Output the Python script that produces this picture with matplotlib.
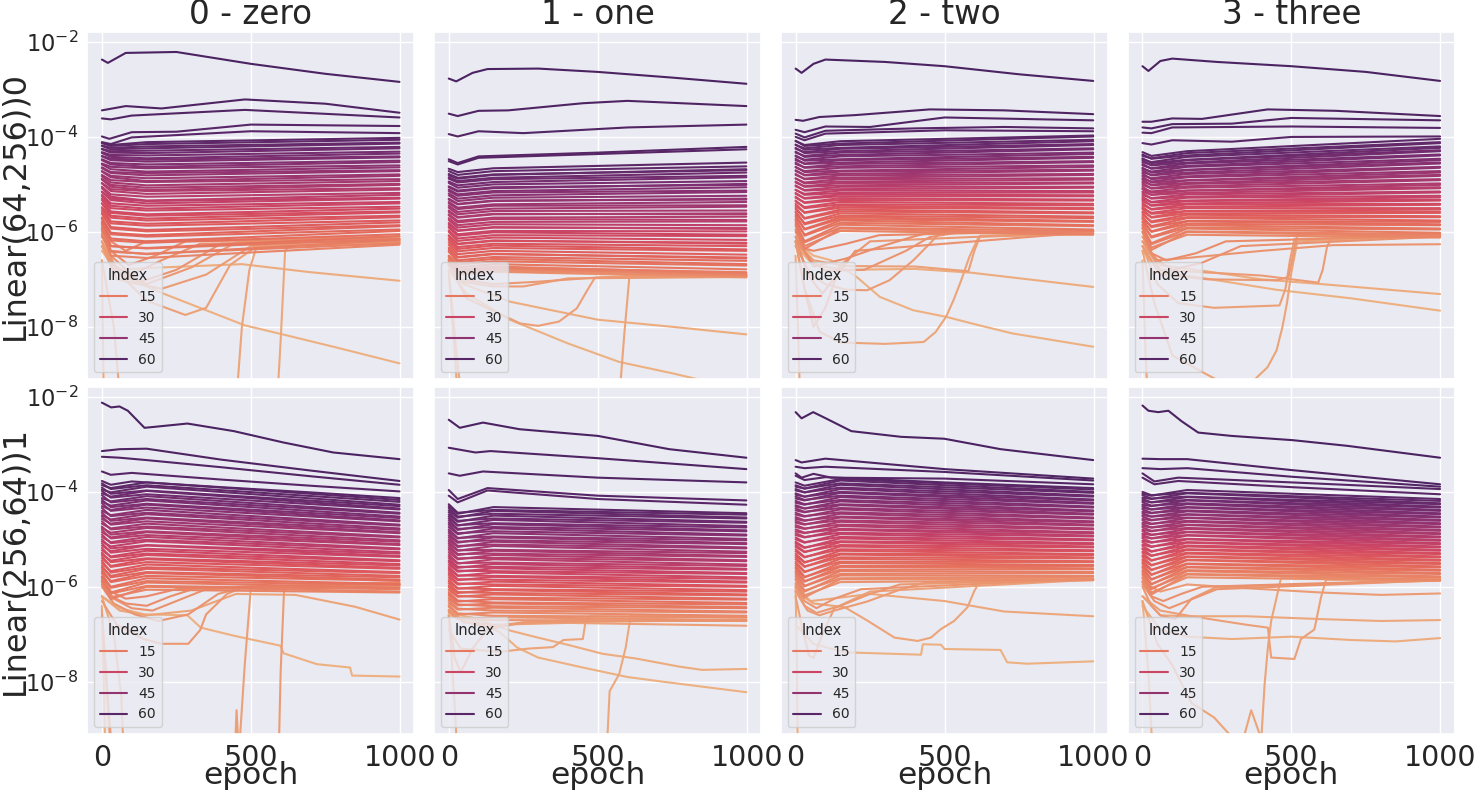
import numpy as np
import pandas as pd
import matplotlib
matplotlib.use("Agg")
import matplotlib.pyplot as plt
from matplotlib.ticker import NullLocator
import seaborn as sns

# all values are log10 of the plotted quantity
knots = [0, 30, 150, 999]

tasks = ["0 - zero", "1 - one", "2 - two", "3 - three"]
layers = ["Linear(64,256))0", "Linear(256,64))1"]

# ---------------- Linear(64,256))0 , 0 - zero ----------------
l0_zero_low = [
    ([0, 60, 190, 480, 600, 777, 999], [-6.4, -6.9, -7.26, -7.97, -8.15, -8.42, -8.77]),
    ([0, 50, 200, 470, 700, 999], [-6.3, -6.8, -6.75, -6.68, -6.85, -7.03]),
    ([0, 8, 580, 600, 615, 650, 999], [-6.6, -10.5, -10.5, -8.3, -6.4, -6.15, -6.2]),
    ([0, 40, 75, 440, 470, 495, 520, 999], [-6.6, -8.0, -10.5, -10.5, -8.0, -6.8, -6.3, -6.24]),
    ([0, 60, 150, 280, 350, 430, 520, 999], [-6.2, -6.9, -7.45, -7.75, -7.6, -6.7, -6.3, -6.22]),
    ([0, 50, 200, 350, 500, 999], [-6.3, -7.0, -7.2, -6.9, -6.3, -6.24]),
    ([0, 40, 150, 300, 450, 999], [-6.2, -6.8, -7.1, -6.75, -6.22, -6.16]),
    ([0, 40, 130, 250, 400, 999], [-6.0, -6.7, -7.05, -6.8, -6.25, -6.18]),
    ([0, 30, 100, 200, 330, 999], [-5.9, -6.5, -6.9, -6.6, -6.25, -6.2]),
    ([0, 30, 90, 180, 280, 999], [-5.8, -6.4, -6.7, -6.5, -6.2, -6.14]),
    ([0, 30, 80, 150, 999], [-5.7, -6.2, -6.4, -6.2, -6.1]),
]
l0_zero_mid = [
    [-6.05, -6.50, -6.55, -6.27], [-5.95, -6.42, -6.46, -6.24], [-6.10, -6.40, -6.47, -6.17],
    [-5.85, -6.30, -6.35, -6.15], [-5.92, -6.30, -6.34, -6.09], [-5.78, -6.18, -6.23, -6.05],
    [-5.82, -6.14, -6.20, -5.98], [-5.70, -6.05, -6.10, -5.95], [-5.72, -6.02, -6.07, -5.88],
    [-5.62, -5.93, -5.99, -5.86], [-5.60, -5.90, -5.96, -5.80], [-5.55, -5.82, -5.87, -5.76],
    [-5.50, -5.78, -5.83, -5.69], [-5.48, -5.70, -5.76, -5.66], [-5.40, -5.66, -5.72, -5.59],
    [-5.40, -5.60, -5.66, -5.57], [-5.33, -5.57, -5.63, -5.51], [-5.30, -5.50, -5.55, -5.47],
    [-5.25, -5.45, -5.51, -5.40], [-5.22, -5.40, -5.45, -5.37], [-5.16, -5.33, -5.40, -5.30],
    [-5.15, -5.30, -5.35, -5.28], [-5.08, -5.26, -5.34, -5.22], [-5.05, -5.21, -5.26, -5.18],
    [-4.98, -5.14, -5.20, -5.11], [-4.97, -5.10, -5.14, -5.08], [-4.90, -5.05, -5.12, -5.01],
    [-4.88, -5.01, -5.07, -4.99], [-4.83, -4.96, -5.02, -4.93], [-4.80, -4.91, -4.95, -4.89],
    [-4.73, -4.85, -4.93, -4.82], [-4.72, -4.82, -4.87, -4.79], [-4.66, -4.76, -4.81, -4.72],
    [-4.64, -4.74, -4.76, -4.70], [-4.58, -4.68, -4.73, -4.64], [-4.56, -4.63, -4.66, -4.60],
    [-4.49, -4.58, -4.63, -4.53], [-4.47, -4.55, -4.58, -4.50], [-4.41, -4.49, -4.52, -4.43],
    [-4.40, -4.46, -4.48, -4.41], [-4.34, -4.42, -4.45, -4.35], [-4.32, -4.38, -4.39, -4.31],
    [-4.26, -4.33, -4.34, -4.24], [-4.25, -4.30, -4.29, -4.21], [-4.19, -4.26, -4.24, -4.14],
    [-4.18, -4.23, -4.20, -4.12], [-4.13, -4.19, -4.15, -4.06], [-4.12, -4.17, -4.11, -4.02],
]
l0_zero_high = [
    ([0, 30, 100, 500, 999], [-4.11, -4.15, -4.01, -3.88, -3.92]),
    ([0, 25, 100, 250, 500, 999], [-3.99, -4.04, -3.90, -3.89, -3.74, -3.77]),
    ([0, 30, 100, 480, 999], [-3.61, -3.63, -3.55, -3.43, -3.59]),
    ([0, 80, 200, 480, 750, 999], [-3.44, -3.35, -3.40, -3.21, -3.30, -3.49]),
    ([0, 20, 80, 250, 500, 750, 999], [-2.37, -2.44, -2.23, -2.21, -2.46, -2.67, -2.84]),
]

# ---------------- Linear(64,256))0 , 1 - one ----------------
l0_one_low = [
    ([0, 60, 205, 400, 572, 751, 900, 999], [-6.8, -7.3, -7.85, -8.35, -8.74, -8.98, -9.2, -9.3]),
    ([0, 50, 205, 500, 750, 999], [-6.7, -7.1, -7.47, -7.85, -8.0, -8.16]),
    ([0, 25, 60, 999], [-6.8, -8.5, -10.5, -10.5]),
    ([0, 20, 40, 560, 590, 607, 650, 999], [-6.9, -8.5, -10.5, -10.5, -8.1, -6.9, -6.88, -6.9]),
    ([0, 60, 240, 300, 370, 430, 465, 490, 600, 999],
     [-6.7, -7.4, -7.93, -7.98, -7.89, -7.61, -7.23, -6.97, -6.93, -6.92]),
    ([0, 40, 150, 250, 400, 999], [-6.7, -7.05, -7.15, -7.15, -6.98, -6.95]),
    ([0, 40, 150, 300, 500, 999], [-6.6, -7.0, -7.1, -7.05, -6.96, -6.94]),
]
l0_one_mid = [
    [-6.68, -6.91, -6.84, -6.96], [-6.62, -6.86, -6.80, -6.945], [-6.70, -6.88, -6.83, -6.93],
    [-6.58, -6.84, -6.76, -6.91], [-6.66, -6.85, -6.78, -6.89], [-6.55, -6.80, -6.73, -6.87],
    [-6.60, -6.82, -6.75, -6.85], [-6.52, -6.75, -6.68, -6.79], [-6.50, -6.69, -6.62, -6.71],
    [-6.42, -6.64, -6.57, -6.68], [-6.40, -6.60, -6.53, -6.61], [-6.33, -6.53, -6.46, -6.56],
    [-6.36, -6.54, -6.47, -6.54], [-6.27, -6.47, -6.40, -6.48], [-6.22, -6.41, -6.34, -6.40],
    [-6.17, -6.36, -6.29, -6.37], [-6.14, -6.32, -6.25, -6.30], [-6.07, -6.25, -6.18, -6.25],
    [-6.09, -6.26, -6.19, -6.23], [-6.00, -6.19, -6.12, -6.17], [-5.97, -6.14, -6.07, -6.09],
    [-5.91, -6.08, -6.01, -6.06], [-5.88, -6.05, -5.98, -5.99], [-5.81, -5.97, -5.90, -5.94],
    [-5.84, -5.98, -5.91, -5.92], [-5.75, -5.91, -5.84, -5.86], [-5.71, -5.86, -5.79, -5.78],
    [-5.65, -5.80, -5.73, -5.75], [-5.63, -5.77, -5.70, -5.68], [-5.55, -5.69, -5.62, -5.63],
    [-5.58, -5.70, -5.63, -5.61], [-5.49, -5.63, -5.56, -5.55], [-5.45, -5.58, -5.51, -5.47],
    [-5.40, -5.52, -5.45, -5.44], [-5.37, -5.49, -5.42, -5.37], [-5.30, -5.41, -5.34, -5.32],
    [-5.32, -5.42, -5.35, -5.30], [-5.23, -5.35, -5.28, -5.24], [-5.19, -5.30, -5.23, -5.16],
    [-5.14, -5.24, -5.17, -5.13], [-5.11, -5.21, -5.14, -5.06], [-5.04, -5.13, -5.06, -5.01],
    [-5.06, -5.15, -5.08, -4.99], [-4.97, -5.07, -5.00, -4.93], [-4.94, -5.02, -4.95, -4.85],
    [-4.88, -4.96, -4.89, -4.82], [-4.85, -4.93, -4.86, -4.75], [-4.78, -4.86, -4.79, -4.70],
    [-4.81, -4.88, -4.80, -4.68], [-4.72, -4.80, -4.72, -4.62], [-4.67, -4.74, -4.66, -4.54],
]
l0_one_high = [
    ([0, 30, 100, 500, 999], [-4.51, -4.58, -4.44, -4.36, -4.26]),
    ([0, 30, 100, 500, 999], [-4.47, -4.55, -4.41, -4.33, -4.21]),
    ([0, 30, 100, 250, 600, 999], [-3.94, -3.99, -3.88, -3.92, -3.80, -3.74]),
    ([0, 30, 100, 200, 450, 600, 999], [-3.51, -3.56, -3.45, -3.44, -3.29, -3.24, -3.35]),
    ([0, 25, 80, 130, 300, 500, 750, 999], [-2.77, -2.83, -2.65, -2.57, -2.56, -2.63, -2.75, -2.88]),
]

# ---------------- Linear(64,256))0 , 2 - two ----------------
l0_two_low = [
    ([0, 60, 120, 205, 283, 394, 505, 617, 728, 999],
     [-6.2, -6.5, -6.6, -6.95, -7.37, -7.65, -7.79, -7.97, -8.14, -8.42]),
    ([0, 60, 170, 400, 590, 999], [-6.3, -6.7, -6.80, -6.78, -6.86, -7.16]),
    ([0, 10, 20, 999], [-6.5, -8.5, -10.5, -10.5]),
    ([0, 30, 80, 150, 300, 430, 470, 505, 530, 556, 583, 615, 999],
     [-6.2, -7.2, -8.1, -8.33, -8.36, -8.32, -8.11, -7.79, -7.44, -7.02, -6.53, -6.1, -6.05]),
    ([0, 60, 170, 400, 580, 600, 620, 999], [-6.2, -6.6, -6.72, -6.73, -6.83, -6.4, -6.08, -6.04]),
    ([0, 50, 100, 170, 240, 315, 395, 450, 485, 999],
     [-6.3, -6.9, -7.1, -7.22, -7.23, -7.02, -6.6, -6.25, -6.02, -6.0]),
    ([0, 30, 60, 100, 150, 250, 999], [-6.2, -7.2, -8.0, -7.6, -6.7, -6.2, -6.0]),
    ([0, 50, 100, 230, 370, 450, 560, 999], [-6.2, -6.6, -6.82, -6.8, -6.4, -6.11, -6.0, -5.99]),
    ([0, 40, 90, 140, 200, 999], [-6.1, -6.9, -7.3, -6.9, -6.4, -6.0]),
    ([0, 40, 60, 170, 280, 395, 460, 999], [-6.1, -6.5, -6.73, -6.56, -6.32, -6.1, -6.0, -5.98]),
    ([0, 30, 60, 170, 280, 999], [-6.0, -6.35, -6.4, -6.25, -6.07, -5.97]),
]
l0_two_mid = [
    [-5.88, -6.30, -5.98, -6.06], [-5.95, -6.36, -5.93, -6.04], [-5.80, -6.22, -5.91, -5.98],
    [-5.84, -6.20, -5.85, -5.95], [-5.73, -6.08, -5.81, -5.88], [-5.76, -6.06, -5.76, -5.86],
    [-5.64, -5.95, -5.73, -5.79], [-5.68, -5.94, -5.69, -5.77], [-5.57, -5.84, -5.66, -5.71],
    [-5.59, -5.82, -5.61, -5.68], [-5.49, -5.72, -5.57, -5.61], [-5.52, -5.71, -5.53, -5.59],
    [-5.41, -5.60, -5.49, -5.52], [-5.45, -5.59, -5.45, -5.50], [-5.34, -5.50, -5.42, -5.44],
    [-5.36, -5.48, -5.37, -5.41], [-5.26, -5.39, -5.33, -5.34], [-5.28, -5.38, -5.29, -5.32],
    [-5.18, -5.30, -5.25, -5.25], [-5.20, -5.29, -5.21, -5.23], [-5.11, -5.22, -5.18, -5.17],
    [-5.12, -5.20, -5.13, -5.14], [-5.02, -5.13, -5.10, -5.07], [-5.04, -5.12, -5.05, -5.05],
    [-4.94, -5.05, -5.02, -4.98], [-4.96, -5.04, -4.97, -4.96], [-4.87, -4.98, -4.94, -4.90],
    [-4.88, -4.96, -4.89, -4.87], [-4.78, -4.89, -4.86, -4.80], [-4.80, -4.88, -4.81, -4.78],
    [-4.70, -4.81, -4.78, -4.71], [-4.72, -4.80, -4.73, -4.69], [-4.63, -4.74, -4.71, -4.63],
    [-4.64, -4.72, -4.65, -4.60], [-4.54, -4.65, -4.62, -4.53], [-4.57, -4.64, -4.57, -4.51],
    [-4.46, -4.57, -4.54, -4.44], [-4.49, -4.56, -4.49, -4.42], [-4.39, -4.50, -4.47, -4.36],
    [-4.41, -4.48, -4.41, -4.33], [-4.31, -4.42, -4.38, -4.26], [-4.33, -4.40, -4.33, -4.24],
    [-4.23, -4.34, -4.30, -4.17], [-4.25, -4.32, -4.25, -4.15], [-4.16, -4.27, -4.23, -4.09],
    [-4.17, -4.24, -4.17, -4.06], [-4.08, -4.19, -4.14, -3.99], [-4.09, -4.17, -4.09, -3.97],
]
l0_two_high = [
    ([0, 30, 100, 500, 999], [-4.00, -4.07, -3.93, -3.86, -3.88]),
    ([0, 30, 100, 400, 700, 999], [-3.93, -4.01, -3.87, -3.82, -3.79, -3.82]),
    ([0, 30, 100, 250, 500, 999], [-3.85, -3.90, -3.78, -3.79, -3.59, -3.65]),
    ([0, 25, 80, 200, 450, 700, 999], [-3.64, -3.66, -3.58, -3.54, -3.42, -3.44, -3.52]),
    ([0, 20, 60, 100, 300, 500, 750, 999], [-2.56, -2.65, -2.46, -2.37, -2.42, -2.51, -2.68, -2.82]),
]

# ---------------- Linear(64,256))0 , 3 - three ----------------
l0_three_low = [
    ([0, 60, 180, 450, 700, 999], [-6.4, -6.85, -6.95, -7.22, -7.4, -7.66]),
    ([0, 60, 180, 400, 600, 999], [-6.3, -6.7, -6.8, -7.0, -7.1, -7.31]),
    ([0, 10, 25, 999], [-6.6, -8.5, -10.5, -10.5]),
    ([0, 40, 100, 200, 260, 370, 420, 450, 470, 485, 500, 520, 999],
     [-6.4, -7.5, -8.6, -8.95, -9.15, -9.15, -8.85, -8.5, -8.0, -7.5, -6.85, -6.2, -6.1]),
    ([0, 50, 120, 240, 460, 480, 495, 510, 999], [-6.3, -7.1, -7.5, -7.6, -7.55, -7.2, -6.6, -6.15, -6.08]),
    ([0, 60, 200, 400, 590, 605, 620, 640, 999], [-6.2, -6.8, -6.85, -6.92, -7.07, -6.8, -6.3, -6.1, -6.05]),
    ([0, 60, 220, 450, 490, 505, 520, 999], [-6.3, -6.9, -7.0, -7.02, -6.95, -6.5, -6.05, -6.05]),
    ([0, 50, 150, 400, 640, 999], [-6.2, -6.6, -6.55, -6.40, -6.28, -6.26]),
    ([0, 40, 100, 200, 330, 999], [-6.1, -6.55, -6.8, -6.65, -6.3, -6.1]),
    ([0, 30, 80, 180, 280, 999], [-6.0, -6.45, -6.6, -6.45, -6.2, -6.08]),
]
l0_three_mid = [
    [-5.93, -6.33, -6.06, -6.12], [-6.00, -6.38, -6.00, -6.10], [-5.88, -6.26, -5.99, -6.05],
    [-5.92, -6.24, -5.93, -6.02], [-5.80, -6.12, -5.91, -5.95], [-5.85, -6.10, -5.86, -5.93],
    [-5.73, -6.00, -5.83, -5.86], [-5.78, -5.99, -5.78, -5.84], [-5.68, -5.90, -5.77, -5.79],
    [-5.71, -5.88, -5.71, -5.76], [-5.60, -5.80, -5.69, -5.69], [-5.64, -5.78, -5.64, -5.67],
    [-5.52, -5.70, -5.61, -5.60], [-5.57, -5.69, -5.56, -5.58], [-5.47, -5.62, -5.56, -5.53],
    [-5.50, -5.60, -5.50, -5.50], [-5.39, -5.53, -5.47, -5.43], [-5.43, -5.52, -5.42, -5.41],
    [-5.32, -5.45, -5.40, -5.34], [-5.35, -5.44, -5.35, -5.32], [-5.26, -5.38, -5.34, -5.27],
    [-5.29, -5.37, -5.28, -5.24], [-5.18, -5.30, -5.26, -5.17], [-5.22, -5.29, -5.21, -5.15],
    [-5.10, -5.22, -5.18, -5.08], [-5.15, -5.22, -5.13, -5.06], [-5.05, -5.17, -5.13, -5.01],
    [-5.09, -5.15, -5.07, -4.98], [-4.97, -5.09, -5.04, -4.91], [-5.01, -5.08, -4.99, -4.89],
    [-4.90, -5.02, -4.97, -4.82], [-4.94, -5.01, -4.92, -4.80], [-4.84, -4.96, -4.91, -4.75],
    [-4.88, -4.94, -4.85, -4.72], [-4.77, -4.89, -4.83, -4.65], [-4.81, -4.87, -4.78, -4.63],
    [-4.70, -4.81, -4.75, -4.56], [-4.74, -4.80, -4.70, -4.54], [-4.65, -4.75, -4.69, -4.49],
    [-4.67, -4.73, -4.63, -4.46], [-4.57, -4.67, -4.61, -4.39], [-4.60, -4.66, -4.56, -4.37],
    [-4.50, -4.60, -4.54, -4.30], [-4.53, -4.59, -4.49, -4.28], [-4.45, -4.55, -4.48, -4.23],
    [-4.47, -4.53, -4.42, -4.20], [-4.37, -4.46, -4.39, -4.13], [-4.40, -4.45, -4.34, -4.11],
    [-4.32, -4.40, -4.30, -4.04],
]
l0_three_high = [
    ([0, 30, 100, 300, 500, 999], [-4.13, -4.16, -4.07, -4.10, -4.00, -3.99]),
    ([0, 30, 100, 500, 999], [-3.91, -3.92, -3.80, -3.78, -3.81]),
    ([0, 30, 100, 300, 500, 999], [-3.80, -3.82, -3.73, -3.72, -3.60, -3.65]),
    ([0, 30, 100, 200, 420, 650, 999], [-3.68, -3.68, -3.61, -3.62, -3.42, -3.45, -3.56]),
    ([0, 20, 60, 100, 250, 500, 750, 999], [-2.51, -2.61, -2.40, -2.35, -2.42, -2.51, -2.63, -2.82]),
]

# ---------------- Linear(256,64))1 , 0 - zero ----------------
l1_zero_low = [
    ([0, 60, 143, 287, 332, 443, 599, 610, 722, 833, 840, 999],
     [-6.2, -6.45, -6.58, -6.60, -6.86, -7.03, -7.24, -7.40, -7.63, -7.70, -7.87, -7.89]),
    ([0, 8, 15, 999], [-6.4, -8.5, -10.5, -10.5]),
    ([0, 40, 65, 80, 999], [-6.2, -7.0, -8.3, -10.5, -10.5]),
    ([0, 60, 150, 300, 450, 650, 850, 999], [-6.2, -6.5, -6.6, -6.5, -6.15, -6.17, -6.42, -6.69]),
    ([0, 20, 40, 440, 452, 460, 480, 500, 999], [-6.5, -8.5, -10.5, -10.5, -8.6, -9.5, -7.6, -6.02, -5.98]),
    ([0, 25, 50, 590, 600, 612, 999], [-6.6, -8.8, -10.5, -10.5, -7.8, -6.0, -5.95]),
    ([0, 50, 140, 200, 290, 330, 350, 420, 470, 999],
     [-6.3, -6.8, -7.1, -7.2, -7.2, -6.91, -6.58, -6.15, -6.02, -5.98]),
    ([0, 40, 110, 190, 290, 390, 470, 999], [-6.0, -6.35, -6.58, -6.72, -6.58, -6.15, -6.02, -5.96]),
    ([0, 40, 100, 170, 250, 350, 999], [-5.9, -6.25, -6.45, -6.5, -6.3, -6.05, -5.94]),
    ([0, 30, 80, 150, 230, 320, 999], [-5.9, -6.2, -6.35, -6.4, -6.2, -6.02, -5.92]),
    ([0, 30, 80, 150, 250, 999], [-5.8, -6.1, -6.25, -6.2, -6.05, -5.9]),
]
l1_zero_mid = [
    [-5.88, -6.22, -6.06, -6.12], [-5.95, -6.26, -6.00, -6.10], [-5.82, -6.14, -5.98, -6.05],
    [-5.86, -6.12, -5.91, -6.02], [-5.72, -6.02, -5.88, -5.96], [-5.78, -6.00, -5.82, -5.94],
    [-5.63, -5.90, -5.77, -5.87], [-5.68, -5.88, -5.71, -5.85], [-5.55, -5.80, -5.69, -5.80],
    [-5.59, -5.77, -5.62, -5.77], [-5.45, -5.70, -5.59, -5.71], [-5.50, -5.67, -5.53, -5.69],
    [-5.35, -5.58, -5.48, -5.62], [-5.40, -5.56, -5.42, -5.60], [-5.28, -5.48, -5.40, -5.55],
    [-5.31, -5.45, -5.33, -5.52], [-5.18, -5.38, -5.30, -5.46], [-5.23, -5.36, -5.24, -5.44],
    [-5.08, -5.28, -5.20, -5.37], [-5.13, -5.25, -5.13, -5.35], [-5.00, -5.19, -5.12, -5.30],
    [-5.04, -5.15, -5.04, -5.27], [-4.90, -5.08, -5.01, -5.21], [-4.95, -5.06, -4.95, -5.19],
    [-4.80, -4.98, -4.91, -5.12], [-4.85, -4.96, -4.85, -5.10], [-4.73, -4.90, -4.83, -5.05],
    [-4.76, -4.86, -4.76, -5.02], [-4.62, -4.79, -4.73, -4.96], [-4.67, -4.77, -4.67, -4.94],
    [-4.52, -4.69, -4.62, -4.87], [-4.57, -4.67, -4.56, -4.85], [-4.44, -4.61, -4.54, -4.80],
    [-4.49, -4.58, -4.47, -4.77], [-4.34, -4.51, -4.44, -4.71], [-4.40, -4.49, -4.38, -4.69],
    [-4.24, -4.40, -4.33, -4.62], [-4.30, -4.38, -4.27, -4.60], [-4.17, -4.32, -4.25, -4.55],
    [-4.21, -4.29, -4.18, -4.52], [-4.07, -4.22, -4.15, -4.46], [-4.13, -4.20, -4.09, -4.44],
    [-3.98, -4.12, -4.05, -4.37], [-4.03, -4.10, -3.98, -4.35], [-3.91, -4.04, -3.97, -4.30],
    [-3.95, -4.01, -3.89, -4.27], [-3.82, -3.94, -3.86, -4.21], [-3.86, -3.92, -3.80, -4.17],
]
l1_zero_high = [
    ([0, 30, 100, 400, 700, 999], [-3.77, -3.85, -3.78, -3.90, -4.01, -4.13]),
    ([0, 30, 100, 400, 700, 999], [-3.57, -3.64, -3.60, -3.74, -3.87, -3.99]),
    ([0, 60, 150, 400, 700, 999], [-3.26, -3.28, -3.33, -3.48, -3.67, -3.85]),
    ([0, 60, 150, 400, 700, 999], [-3.14, -3.10, -3.09, -3.32, -3.55, -3.77]),
    ([0, 31, 59, 87, 115, 143, 176, 287, 443, 610, 777, 999],
     [-2.12, -2.22, -2.20, -2.29, -2.47, -2.65, -2.63, -2.56, -2.72, -2.96, -3.17, -3.31]),
]

# ---------------- Linear(256,64))1 , 1 - one ----------------
l1_one_low = [
    ([0, 80, 170, 230, 300, 450, 600, 720, 999], [-6.6, -6.7, -6.95, -7.28, -7.49, -7.7, -7.9, -8.0, -8.22]),
    ([0, 80, 205, 293, 405, 516, 628, 773, 851, 999],
     [-6.55, -6.65, -6.92, -7.06, -7.23, -7.41, -7.51, -7.68, -7.75, -7.73]),
    ([0, 20, 37, 520, 530, 540, 572, 594, 611, 999],
     [-6.6, -8.5, -10.5, -10.5, -9.5, -8.2, -7.84, -7.28, -6.6, -6.65]),
    ([0, 40, 170, 270, 350, 385, 450, 460, 475, 999],
     [-6.9, -7.3, -7.37, -7.30, -7.27, -7.12, -7.10, -6.7, -6.62, -6.65]),
    ([0, 50, 150, 400, 999], [-6.5, -6.75, -6.8, -6.76, -6.82]),
    ([0, 40, 120, 250, 400, 999], [-6.4, -6.7, -6.85, -6.75, -6.7, -6.72]),
    ([0, 20, 40, 80, 130, 250, 999], [-6.6, -7.5, -7.8, -7.3, -6.9, -6.75, -6.7]),
]
l1_one_mid = [
    [-6.48, -6.66, -6.70, -6.72], [-6.52, -6.68, -6.64, -6.70], [-6.38, -6.56, -6.61, -6.64],
    [-6.42, -6.58, -6.54, -6.61], [-6.28, -6.46, -6.50, -6.54], [-6.33, -6.48, -6.44, -6.52],
    [-6.19, -6.37, -6.41, -6.45], [-6.24, -6.39, -6.35, -6.43], [-6.11, -6.29, -6.33, -6.37],
    [-6.15, -6.31, -6.26, -6.34], [-6.01, -6.19, -6.23, -6.27], [-6.06, -6.21, -6.16, -6.25],
    [-5.93, -6.11, -6.13, -6.18], [-5.98, -6.13, -6.07, -6.16], [-5.85, -6.03, -6.05, -6.10],
    [-5.89, -6.04, -5.98, -6.07], [-5.75, -5.93, -5.95, -6.00], [-5.80, -5.95, -5.89, -5.98],
    [-5.66, -5.84, -5.85, -5.91], [-5.71, -5.86, -5.79, -5.89], [-5.58, -5.76, -5.77, -5.83],
    [-5.62, -5.77, -5.70, -5.80], [-5.48, -5.66, -5.67, -5.73], [-5.53, -5.68, -5.61, -5.71],
    [-5.40, -5.58, -5.58, -5.64], [-5.45, -5.60, -5.52, -5.62], [-5.32, -5.50, -5.49, -5.56],
    [-5.36, -5.51, -5.42, -5.53], [-5.22, -5.40, -5.39, -5.46], [-5.27, -5.42, -5.33, -5.44],
    [-5.13, -5.31, -5.30, -5.37], [-5.18, -5.33, -5.24, -5.35], [-5.05, -5.23, -5.22, -5.29],
    [-5.09, -5.24, -5.14, -5.26], [-4.96, -5.14, -5.11, -5.19], [-5.01, -5.16, -5.05, -5.17],
    [-4.87, -5.05, -5.02, -5.10], [-4.92, -5.07, -4.96, -5.08], [-4.79, -4.97, -4.94, -5.02],
    [-4.83, -4.98, -4.87, -4.99], [-4.69, -4.87, -4.83, -4.92], [-4.74, -4.89, -4.77, -4.90],
    [-4.60, -4.78, -4.74, -4.83], [-4.65, -4.80, -4.68, -4.81], [-4.52, -4.70, -4.66, -4.75],
    [-4.56, -4.71, -4.59, -4.72], [-4.43, -4.61, -4.56, -4.65], [-4.48, -4.63, -4.50, -4.63],
    [-4.34, -4.52, -4.46, -4.56], [-4.39, -4.54, -4.40, -4.54], [-4.26, -4.44, -4.38, -4.48],
    [-4.30, -4.46, -4.32, -4.45],
]
l1_one_high = [
    ([0, 30, 130, 500, 999], [-4.08, -4.22, -3.97, -4.15, -4.27]),
    ([0, 30, 130, 500, 999], [-3.96, -4.15, -3.92, -4.08, -4.18]),
    ([0, 37, 115, 500, 999], [-3.61, -3.66, -3.57, -3.70, -3.80]),
    ([0, 90, 140, 500, 999], [-3.07, -3.17, -3.14, -3.29, -3.52]),
    ([0, 37, 115, 238, 500, 740, 999], [-2.48, -2.65, -2.54, -2.68, -2.82, -3.10, -3.28]),
]

# ---------------- Linear(256,64))1 , 2 - two ----------------
l1_two_low = [
    ([0, 60, 165, 421, 427, 488, 500, 688, 710, 777, 999],
     [-6.8, -7.2, -7.38, -7.43, -7.21, -7.22, -7.31, -7.33, -7.59, -7.62, -7.57]),
    ([0, 4, 8, 999], [-6.0, -7.5, -10.5, -10.5]),
    ([0, 50, 120, 250, 500, 700, 999], [-6.0, -6.3, -6.25, -6.15, -6.30, -6.52, -6.62]),
    ([0, 60, 165, 243, 332, 410, 454, 488, 532, 577, 599, 621, 999],
     [-6.1, -6.35, -6.43, -6.72, -7.07, -7.14, -7.07, -6.89, -6.72, -6.43, -6.1, -5.85, -5.84]),
    ([0, 20, 45, 60, 90, 130, 250, 999], [-6.2, -6.8, -7.45, -7.5, -7.0, -6.45, -6.1, -5.85]),
    ([0, 40, 80, 130, 240, 350, 440, 999], [-6.1, -6.5, -6.6, -6.5, -6.31, -6.06, -5.9, -5.86]),
    ([0, 30, 70, 150, 250, 350, 999], [-6.0, -6.4, -6.55, -6.4, -6.15, -5.95, -5.84]),
    ([0, 30, 70, 130, 220, 999], [-5.95, -6.3, -6.45, -6.25, -6.05, -5.83]),
]
l1_two_mid = [
    [-5.85, -6.18, -5.90, -5.86], [-5.92, -6.22, -5.84, -5.84], [-5.78, -6.08, -5.82, -5.79],
    [-5.83, -6.10, -5.76, -5.77], [-5.70, -5.98, -5.73, -5.71], [-5.74, -5.99, -5.67, -5.69],
    [-5.62, -5.88, -5.64, -5.63], [-5.67, -5.89, -5.58, -5.61], [-5.55, -5.79, -5.56, -5.56],
    [-5.59, -5.80, -5.50, -5.54], [-5.47, -5.68, -5.47, -5.48], [-5.51, -5.69, -5.41, -5.46],
    [-5.38, -5.57, -5.38, -5.40], [-5.42, -5.58, -5.32, -5.38], [-5.30, -5.48, -5.30, -5.33],
    [-5.34, -5.49, -5.24, -5.31], [-5.21, -5.37, -5.21, -5.25], [-5.25, -5.38, -5.15, -5.23],
    [-5.12, -5.26, -5.12, -5.17], [-5.16, -5.27, -5.06, -5.15], [-5.05, -5.17, -5.04, -5.10],
    [-5.08, -5.18, -4.98, -5.08], [-4.96, -5.06, -4.95, -5.02], [-5.00, -5.07, -4.89, -5.00],
    [-4.87, -4.95, -4.86, -4.94], [-4.91, -4.96, -4.80, -4.92], [-4.79, -4.86, -4.78, -4.87],
    [-4.83, -4.87, -4.72, -4.85], [-4.70, -4.77, -4.69, -4.79], [-4.74, -4.78, -4.63, -4.77],
    [-4.61, -4.68, -4.60, -4.71], [-4.65, -4.69, -4.54, -4.69], [-4.53, -4.60, -4.52, -4.64],
    [-4.57, -4.61, -4.46, -4.62], [-4.44, -4.51, -4.43, -4.56], [-4.48, -4.52, -4.37, -4.54],
    [-4.35, -4.42, -4.34, -4.48], [-4.39, -4.43, -4.28, -4.46], [-4.28, -4.35, -4.26, -4.41],
    [-4.31, -4.35, -4.20, -4.39], [-4.19, -4.26, -4.17, -4.33], [-4.23, -4.27, -4.11, -4.31],
    [-4.10, -4.17, -4.08, -4.25], [-4.14, -4.18, -4.02, -4.23], [-4.03, -4.10, -4.00, -4.18],
    [-4.06, -4.10, -3.94, -4.16], [-3.94, -4.01, -3.91, -4.10], [-3.97, -4.01, -3.85, -4.08],
    [-3.86, -3.93, -3.82, -4.02], [-3.89, -3.93, -3.76, -4.00], [-3.80, -3.87, -3.73, -3.95],
]
l1_two_high = [
    ([0, 30, 100, 500, 999], [-3.66, -3.75, -3.69, -3.80, -3.92]),
    ([0, 20, 60, 120, 500, 999], [-3.61, -3.70, -3.62, -3.70, -3.72, -3.84]),
    ([0, 30, 100, 500, 999], [-3.47, -3.50, -3.47, -3.58, -3.76]),
    ([0, 20, 100, 500, 999], [-3.33, -3.38, -3.30, -3.52, -3.72]),
    ([0, 20, 59, 98, 187, 354, 499, 688, 999], [-2.32, -2.45, -2.32, -2.44, -2.72, -2.84, -2.88, -3.10, -3.33]),
]

# ---------------- Linear(256,64))1 , 3 - three ----------------
l1_three_low = [
    ([0, 20, 42, 999], [-6.3, -7.8, -10.5, -10.5]),
    ([0, 60, 150, 300, 500, 700, 850, 999], [-6.4, -6.9, -7.05, -7.1, -7.05, -7.12, -7.15, -7.08]),
    ([0, 60, 150, 350, 600, 800, 999], [-6.2, -6.6, -6.62, -6.62, -6.68, -6.72, -6.70]),
    ([0, 50, 100, 165, 240, 298, 330, 365, 399, 410, 421, 432, 465, 999],
     [-6.3, -7.2, -7.65, -8.45, -8.75, -9.15, -9.4, -8.6, -9.2, -8.05, -7.28, -6.72, -5.82, -5.84]),
    ([0, 60, 165, 350, 421, 432, 510, 532, 577, 599, 616, 999],
     [-6.2, -6.5, -6.62, -6.8, -6.86, -7.49, -7.52, -7.1, -6.9, -6.23, -5.85, -5.84]),
    ([0, 60, 150, 350, 600, 800, 999], [-5.9, -6.1, -5.95, -6.03, -6.12, -6.17, -6.14]),
    ([0, 30, 60, 110, 165, 250, 999], [-6.0, -6.4, -6.6, -6.68, -6.25, -6.0, -5.87]),
    ([0, 40, 90, 150, 250, 999], [-5.95, -6.3, -6.45, -6.3, -6.05, -5.86]),
    ([0, 30, 70, 130, 200, 999], [-5.9, -6.2, -6.3, -6.15, -6.0, -5.85]),
]
l1_three_mid = [
    [-5.82, -6.12, -5.80, -5.87], [-5.88, -6.16, -5.74, -5.85], [-5.75, -6.03, -5.73, -5.80],
    [-5.80, -6.05, -5.67, -5.78], [-5.68, -5.94, -5.65, -5.73], [-5.72, -5.95, -5.59, -5.71],
    [-5.60, -5.84, -5.58, -5.66], [-5.65, -5.85, -5.52, -5.64], [-5.52, -5.74, -5.51, -5.59],
    [-5.57, -5.75, -5.44, -5.57], [-5.45, -5.64, -5.43, -5.52], [-5.49, -5.65, -5.37, -5.50],
    [-5.37, -5.54, -5.36, -5.45], [-5.42, -5.55, -5.30, -5.43], [-5.29, -5.44, -5.28, -5.38],
    [-5.34, -5.45, -5.22, -5.36], [-5.21, -5.34, -5.21, -5.31], [-5.26, -5.35, -5.15, -5.29],
    [-5.14, -5.25, -5.13, -5.24], [-5.19, -5.26, -5.07, -5.22], [-5.06, -5.15, -5.06, -5.17],
    [-5.11, -5.16, -5.00, -5.15], [-4.98, -5.06, -4.99, -5.10], [-5.03, -5.07, -4.92, -5.08],
    [-4.91, -4.98, -4.91, -5.03], [-4.95, -4.98, -4.85, -5.01], [-4.83, -4.90, -4.84, -4.96],
    [-4.88, -4.91, -4.78, -4.94], [-4.75, -4.82, -4.76, -4.89], [-4.80, -4.83, -4.70, -4.87],
    [-4.68, -4.75, -4.69, -4.82], [-4.72, -4.75, -4.63, -4.80], [-4.60, -4.67, -4.61, -4.75],
    [-4.65, -4.68, -4.55, -4.73], [-4.52, -4.59, -4.54, -4.68], [-4.57, -4.60, -4.48, -4.66],
    [-4.45, -4.52, -4.47, -4.61], [-4.49, -4.52, -4.41, -4.59], [-4.37, -4.44, -4.39, -4.54],
    [-4.42, -4.45, -4.33, -4.52], [-4.30, -4.37, -4.32, -4.47], [-4.34, -4.37, -4.26, -4.45],
    [-4.22, -4.29, -4.24, -4.40], [-4.27, -4.30, -4.18, -4.38], [-4.15, -4.22, -4.17, -4.33],
    [-4.19, -4.22, -4.11, -4.31], [-4.07, -4.14, -4.10, -4.26], [-4.12, -4.15, -4.03, -4.24],
    [-4.00, -4.07, -4.02, -4.19], [-4.04, -4.08, -3.96, -4.15],
]
l1_three_high = [
    ([0, 40, 120, 500, 999], [-3.70, -3.84, -3.77, -3.90, -4.05]),
    ([0, 40, 120, 500, 999], [-3.61, -3.78, -3.70, -3.80, -3.94]),
    ([0, 60, 150, 500, 999], [-3.50, -3.52, -3.50, -3.68, -3.89]),
    ([0, 60, 150, 500, 999], [-3.30, -3.31, -3.31, -3.54, -3.84]),
    ([0, 20, 53, 87, 131, 187, 298, 504, 688, 999],
     [-2.18, -2.29, -2.32, -2.29, -2.51, -2.75, -2.82, -2.91, -3.03, -3.28]),
]

grid = [
    [(l0_zero_low, l0_zero_mid, l0_zero_high), (l0_one_low, l0_one_mid, l0_one_high),
     (l0_two_low, l0_two_mid, l0_two_high), (l0_three_low, l0_three_mid, l0_three_high)],
    [(l1_zero_low, l1_zero_mid, l1_zero_high), (l1_one_low, l1_one_mid, l1_one_high),
     (l1_two_low, l1_two_mid, l1_two_high), (l1_three_low, l1_three_mid, l1_three_high)],
]


def to_frame(low, mid, high):
    lines = list(low) + [(knots, row) for row in mid] + list(high)
    rows = []
    for idx, (ep, lv) in enumerate(lines, start=1):
        for e, v in zip(ep, lv):
            rows.append((e, 10.0 ** v, idx))
    return pd.DataFrame(rows, columns=["epoch", "value", "Index"])


sns.set_theme(style="darkgrid")
fig, axes = plt.subplots(2, 4, figsize=(14.75, 7.91), dpi=100, sharex=True, sharey=True)
fig.subplots_adjust(left=0.059, right=0.9864, top=0.9595, bottom=0.0721,
                    wspace=0.0596, hspace=0.023)

for r in range(2):
    for c in range(4):
        ax = axes[r, c]
        df = to_frame(*grid[r][c])
        sns.lineplot(data=df, x="epoch", y="value", hue="Index", palette="flare",
                     linewidth=1.5, errorbar=None, ax=ax)
        ax.set_yscale("log")
        sns.move_legend(ax, "lower left", fontsize=10, title_fontsize=10.5)
        if r == 0:
            ax.set_title(tasks[c], fontsize=23.5)
            ax.set_xlabel("")
        else:
            ax.set_xlabel("epoch", fontsize=22.5)
            ax.xaxis.set_label_coords(0.5, -0.078)
        ax.set_ylabel(layers[r] if c == 0 else "", fontsize=23)
        ax.tick_params(axis="x", labelsize=20.5, pad=1.5)
        ax.tick_params(axis="y", labelsize=19.5, pad=0.5)

ax0 = axes[0, 0]
ax0.set_ylim(10 ** -9.1, 10 ** -1.79)
ax0.set_yticks([1e-2, 1e-4, 1e-6, 1e-8])
ax0.yaxis.set_minor_locator(NullLocator())
ax0.set_xticks([0, 500, 1000])

# leave room for the layer name: y tick labels start ~26px from the left edge
fig.canvas.draw()
rend = fig.canvas.get_renderer()


def ticks_left(ax):
    return min(t.get_window_extent(rend).x0 for t in ax.get_yticklabels() if t.get_text())


right = axes[0, 0].get_window_extent(rend).x0
x0 = ticks_left(axes[0, 0])
if x0 < 26.5:
    ysize = 19.5 * (right - 26.5) / (right - x0)
    for ax in axes.flat:
        ax.tick_params(axis="y", labelsize=ysize)
    fig.canvas.draw()

for r in range(2):
    ax = axes[r, 0]
    lab = ax.yaxis.label
    _, _, d = rend.get_text_width_height_descent(lab.get_text(), lab.get_fontproperties(), ismath=False)
    bb = ax.get_window_extent(rend)
    base = max(ticks_left(ax) - 0.5, 25.5)
    ax.yaxis.set_label_coords((base + d - bb.x0) / bb.width, 0.5)

fig.savefig("out.png", dpi=100)
